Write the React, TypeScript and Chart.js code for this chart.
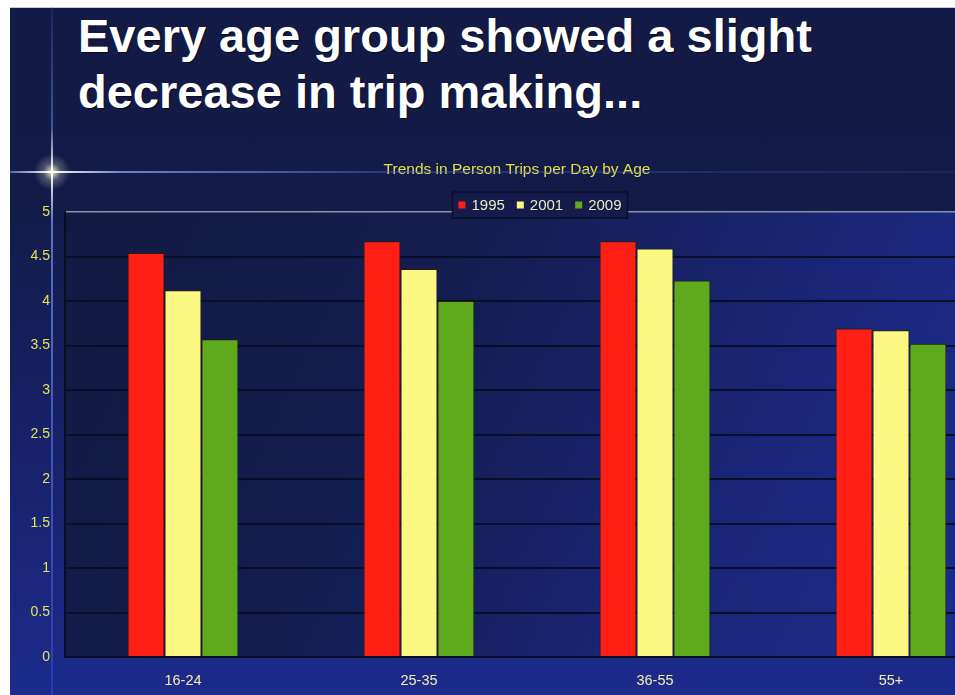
import React, { useEffect, useRef } from "react";
import { Chart, registerables } from "chart.js";

Chart.register(...registerables);

// Person trips per day, by age group and survey year
const ageGroups = ["16-24", "25-35", "36-55", "55+"];
const trips1995 = [4.54, 4.67, 4.67, 3.69];
const trips2001 = [4.12, 4.36, 4.59, 3.67];
const trips2009 = [3.57, 4.0, 4.23, 3.52];
const seriesYears = ["1995", "2001", "2009"];
const seriesColors = ["#ff1f14", "#fcf882", "#5ea91c"];
const yTicks = [0, 0.5, 1, 1.5, 2, 2.5, 3, 3.5, 4, 4.5, 5];
const chartTitle = "Trends in Person Trips per Day by Age";
const headline = ["Every age group showed a slight", "decrease in trip making..."];

const FONT = "'Liberation Sans', Arial, Helvetica, sans-serif";

// Paints the blue backdrop behind the axes and the plot area
const backdropPlugin = {
  id: "backdrop",
  beforeDraw(chart: any) {
    const { ctx, chartArea: a, width, height } = chart;
    ctx.save();
    const outer = ctx.createLinearGradient(0, a.top, 0, height);
    outer.addColorStop(0, "#141c4a");
    outer.addColorStop(0.5, "#17226a");
    outer.addColorStop(1, "#1c2b8c");
    ctx.fillStyle = outer;
    ctx.fillRect(0, a.top - 2, width, height - a.top + 2);

    const plot = ctx.createLinearGradient(a.left, a.top, a.right, a.bottom);
    plot.addColorStop(0, "#121a42");
    plot.addColorStop(0.35, "#141d4e");
    plot.addColorStop(0.7, "#192678");
    plot.addColorStop(1, "#1c2c8e");
    ctx.fillStyle = plot;
    ctx.fillRect(a.left, a.top, a.right - a.left, a.bottom - a.top);
    ctx.restore();
  },
};

// Chart heading and boxed legend row
const headerPlugin = {
  id: "header",
  afterDraw(chart: any, _args: any, opts: any) {
    const { ctx } = chart;
    ctx.save();
    ctx.font = `15.5px ${FONT}`;
    ctx.textAlign = "center";
    ctx.textBaseline = "middle";
    ctx.fillStyle = "#e6e042";
    ctx.fillText(opts.title, opts.titleX, opts.titleY);

    ctx.font = `15px ${FONT}`;
    const sets = chart.data.datasets;
    const sq = 7;
    const gap = 6;
    const itemGap = 12;
    const pad = 6;
    const widths = sets.map((d: any) => ctx.measureText(d.label).width);
    const total =
      pad * 2 +
      widths.reduce((s: number, w: number) => s + w + sq + gap, 0) +
      itemGap * (sets.length - 1);
    const boxH = 26;
    const left = opts.legendX - total / 2;
    const top = opts.legendY - boxH / 2;
    ctx.fillStyle = "#151b4a";
    ctx.fillRect(left, top, total, boxH);
    ctx.strokeStyle = "#0b0f2c";
    ctx.lineWidth = 1.5;
    ctx.strokeRect(left, top, total, boxH);

    let x = left + pad;
    ctx.textAlign = "left";
    sets.forEach((d: any, i: number) => {
      ctx.fillStyle = d.backgroundColor;
      ctx.fillRect(x, opts.legendY - sq / 2, sq, sq);
      x += sq + gap;
      ctx.fillStyle = "#ecebc0";
      ctx.fillText(d.label, x, opts.legendY + 1);
      x += widths[i] + itemGap;
    });
    ctx.restore();
  },
};

function TripsChart() {
  const ref = useRef<HTMLCanvasElement | null>(null);

  useEffect(() => {
    if (!ref.current) return;
    const values = [trips1995, trips2001, trips2009];
    const chart = new Chart(ref.current, {
      type: "bar",
      data: {
        labels: ageGroups,
        datasets: seriesYears.map((year, i) => ({
          label: year,
          data: values[i],
          backgroundColor: seriesColors[i],
          borderColor: "#2b1d0c",
          borderWidth: 1,
          barPercentage: 1,
          categoryPercentage: 0.47,
        })),
      },
      options: {
        animation: false,
        responsive: false,
        maintainAspectRatio: false,
        layout: { padding: { top: 57, right: 11, left: 0, bottom: 0 } },
        plugins: {
          legend: { display: false },
          title: { display: false },
          tooltip: { enabled: false },
          header: {
            title: chartTitle,
            titleX: 507,
            titleY: 15,
            legendX: 530,
            legendY: 50,
          },
        } as any,
        scales: {
          x: {
            grid: { display: false, drawTicks: false },
            border: { display: true, color: "#0a0d26", width: 2 },
            ticks: {
              color: "#f2eeb0",
              font: { family: FONT, size: 14.5 },
              padding: 15,
            },
            afterFit: (s: any) => {
              s.height = 38;
            },
          },
          y: {
            min: 0,
            max: 5,
            afterBuildTicks: (s: any) => {
              s.ticks = yTicks.map((v) => ({ value: v }));
            },
            grid: {
              drawTicks: false,
              color: (c: any) =>
                c.tick && c.tick.value === 5 ? "#8e92ac" : "#0a0e28",
              lineWidth: (c: any) => (c.tick && c.tick.value === 5 ? 1.5 : 2),
            },
            border: { display: true, color: "#0a0d26", width: 2 },
            ticks: {
              color: "#e6e25a",
              font: { family: FONT, size: 14 },
              padding: 15,
              callback: (v: any) => String(v),
            },
            afterFit: (s: any) => {
              s.width = 55;
            },
          },
        },
      },
      plugins: [backdropPlugin, headerPlugin],
    });
    return () => chart.destroy();
  }, []);

  return <canvas ref={ref} width={1010} height={540} style={{ display: "block" }} />;
}

export default function App() {
  return (
    <div
      style={{
        position: "fixed",
        left: 0,
        top: 0,
        width: 955,
        height: 695,
        overflow: "hidden",
        background: "#ffffff",
      }}
    >
      <div
        style={{
          position: "absolute",
          left: 10,
          top: 7,
          right: 0,
          bottom: 0,
          background: "linear-gradient(180deg, #131a45 0%, #141c4c 55%, #18237a 100%)",
          borderTop: "1px solid #c9cad4",
        }}
      />
      <div
        style={{
          position: "absolute",
          left: 78,
          top: 8,
          color: "#ffffff",
          fontFamily: FONT,
          fontWeight: 700,
          fontSize: 47,
          lineHeight: "56px",
          whiteSpace: "nowrap",
          textShadow: "1px 1px 1px rgba(0,0,0,0.55)",
        }}
      >
        {headline[0]}
        <br />
        {headline[1]}
      </div>
      <div style={{ position: "absolute", left: 10, top: 155, width: 1010, height: 540 }}>
        <TripsChart />
      </div>
      {/* light streaks crossing near the top-left corner of the chart */}
      <div
        style={{
          position: "absolute",
          left: 10,
          top: 171,
          width: 945,
          height: 2,
          pointerEvents: "none",
          background:
            "linear-gradient(to right, rgba(120,150,255,0.6) 0px, rgba(255,255,235,1) 42px, rgba(140,165,255,0.75) 110px, rgba(70,100,215,0.4) 380px, rgba(70,100,215,0.15) 100%)",
        }}
      />
      <div
        style={{
          position: "absolute",
          left: 51,
          top: 7,
          width: 2,
          height: 688,
          pointerEvents: "none",
          background:
            "linear-gradient(to bottom, rgba(60,90,220,0.2) 0px, rgba(110,140,250,0.5) 120px, rgba(255,255,235,1) 165px, rgba(120,150,255,0.7) 215px, rgba(50,80,210,0.5) 100%)",
        }}
      />
      <div
        style={{
          position: "absolute",
          left: 32,
          top: 152,
          width: 40,
          height: 40,
          pointerEvents: "none",
          background:
            "radial-gradient(circle, rgba(255,255,230,0.9) 0%, rgba(255,255,230,0.25) 30%, rgba(255,255,230,0) 65%)",
        }}
      />
    </div>
  );
}
